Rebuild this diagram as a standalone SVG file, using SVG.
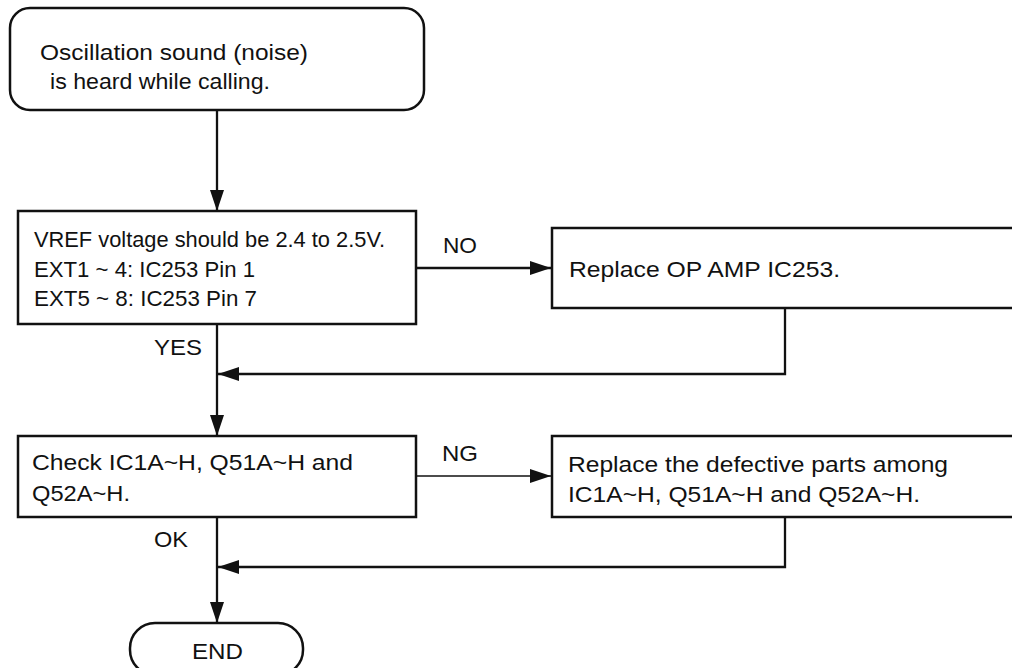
<svg xmlns="http://www.w3.org/2000/svg" width="1012" height="668" viewBox="0 0 1012 668">
<style>
.box{fill:#fff;stroke:#111;stroke-width:2.5}
.ln{fill:none;stroke:#111;stroke-width:2.3}
.thin{fill:none;stroke:#111;stroke-width:1.4}
text{font-family:"Liberation Sans",Arial,Helvetica,sans-serif;font-size:22px;fill:#111}
</style>
<defs>
<marker id="ah" markerUnits="userSpaceOnUse" markerWidth="22" markerHeight="14" refX="21" refY="7" orient="auto">
<path d="M0,0 L21,7 L0,14 z" fill="#111"/>
</marker>
</defs>
<g id="start">
<rect class="box" x="10" y="8" width="414" height="102" rx="20" ry="20"/>
<text x="40" y="60" textLength="268" lengthAdjust="spacingAndGlyphs">Oscillation sound (noise)</text>
<text x="50" y="89" textLength="220" lengthAdjust="spacingAndGlyphs">is heard while calling.</text>
</g>
<g id="vref">
<rect class="box" x="18" y="211" width="398" height="113"/>
<text x="34" y="247" textLength="351" lengthAdjust="spacingAndGlyphs">VREF voltage should be 2.4 to 2.5V.</text>
<text x="34" y="277" textLength="221" lengthAdjust="spacingAndGlyphs">EXT1 ~ 4:  IC253 Pin 1</text>
<text x="34" y="306" textLength="223" lengthAdjust="spacingAndGlyphs">EXT5 ~ 8:  IC253 Pin 7</text>
</g>
<g id="replace-opamp">
<rect class="box" x="552" y="228" width="480" height="80"/>
<text x="569" y="277" textLength="271" lengthAdjust="spacingAndGlyphs">Replace OP AMP IC253.</text>
</g>
<g id="check">
<rect class="box" x="18" y="436" width="398" height="81"/>
<text x="32" y="470" textLength="321" lengthAdjust="spacingAndGlyphs">Check IC1A~H, Q51A~H and</text>
<text x="32" y="501" textLength="98" lengthAdjust="spacingAndGlyphs">Q52A~H.</text>
</g>
<g id="replace-parts">
<rect class="box" x="552" y="436" width="480" height="81"/>
<text x="568" y="472" textLength="380" lengthAdjust="spacingAndGlyphs">Replace the defective parts among</text>
<text x="568" y="502" textLength="352" lengthAdjust="spacingAndGlyphs">IC1A~H, Q51A~H and Q52A~H.</text>
</g>
<g id="end">
<rect class="box" x="130" y="623" width="173" height="52" rx="25" ry="25"/>
<text x="192" y="659" textLength="51" lengthAdjust="spacingAndGlyphs">END</text>
</g>
<g id="connectors">
<line class="ln" x1="217" y1="110" x2="217" y2="211" marker-end="url(#ah)"/>
<line class="ln" x1="416" y1="268" x2="551" y2="268" marker-end="url(#ah)"/>
<line class="ln" x1="217" y1="324" x2="217" y2="436" marker-end="url(#ah)"/>
<polyline class="ln" points="785,308 785,374 218,374" marker-end="url(#ah)"/>
<line class="thin" x1="416" y1="476" x2="551" y2="476" marker-end="url(#ah)"/>
<line class="ln" x1="217" y1="517" x2="217" y2="623" marker-end="url(#ah)"/>
<polyline class="ln" points="785,517 785,567 218,567" marker-end="url(#ah)"/>
</g>
<g id="labels">
<text x="443" y="253" textLength="34" lengthAdjust="spacingAndGlyphs">NO</text>
<text x="154" y="355" textLength="48" lengthAdjust="spacingAndGlyphs">YES</text>
<text x="442" y="461" textLength="36" lengthAdjust="spacingAndGlyphs">NG</text>
<text x="154" y="547" textLength="34" lengthAdjust="spacingAndGlyphs">OK</text>
</g>
</svg>
